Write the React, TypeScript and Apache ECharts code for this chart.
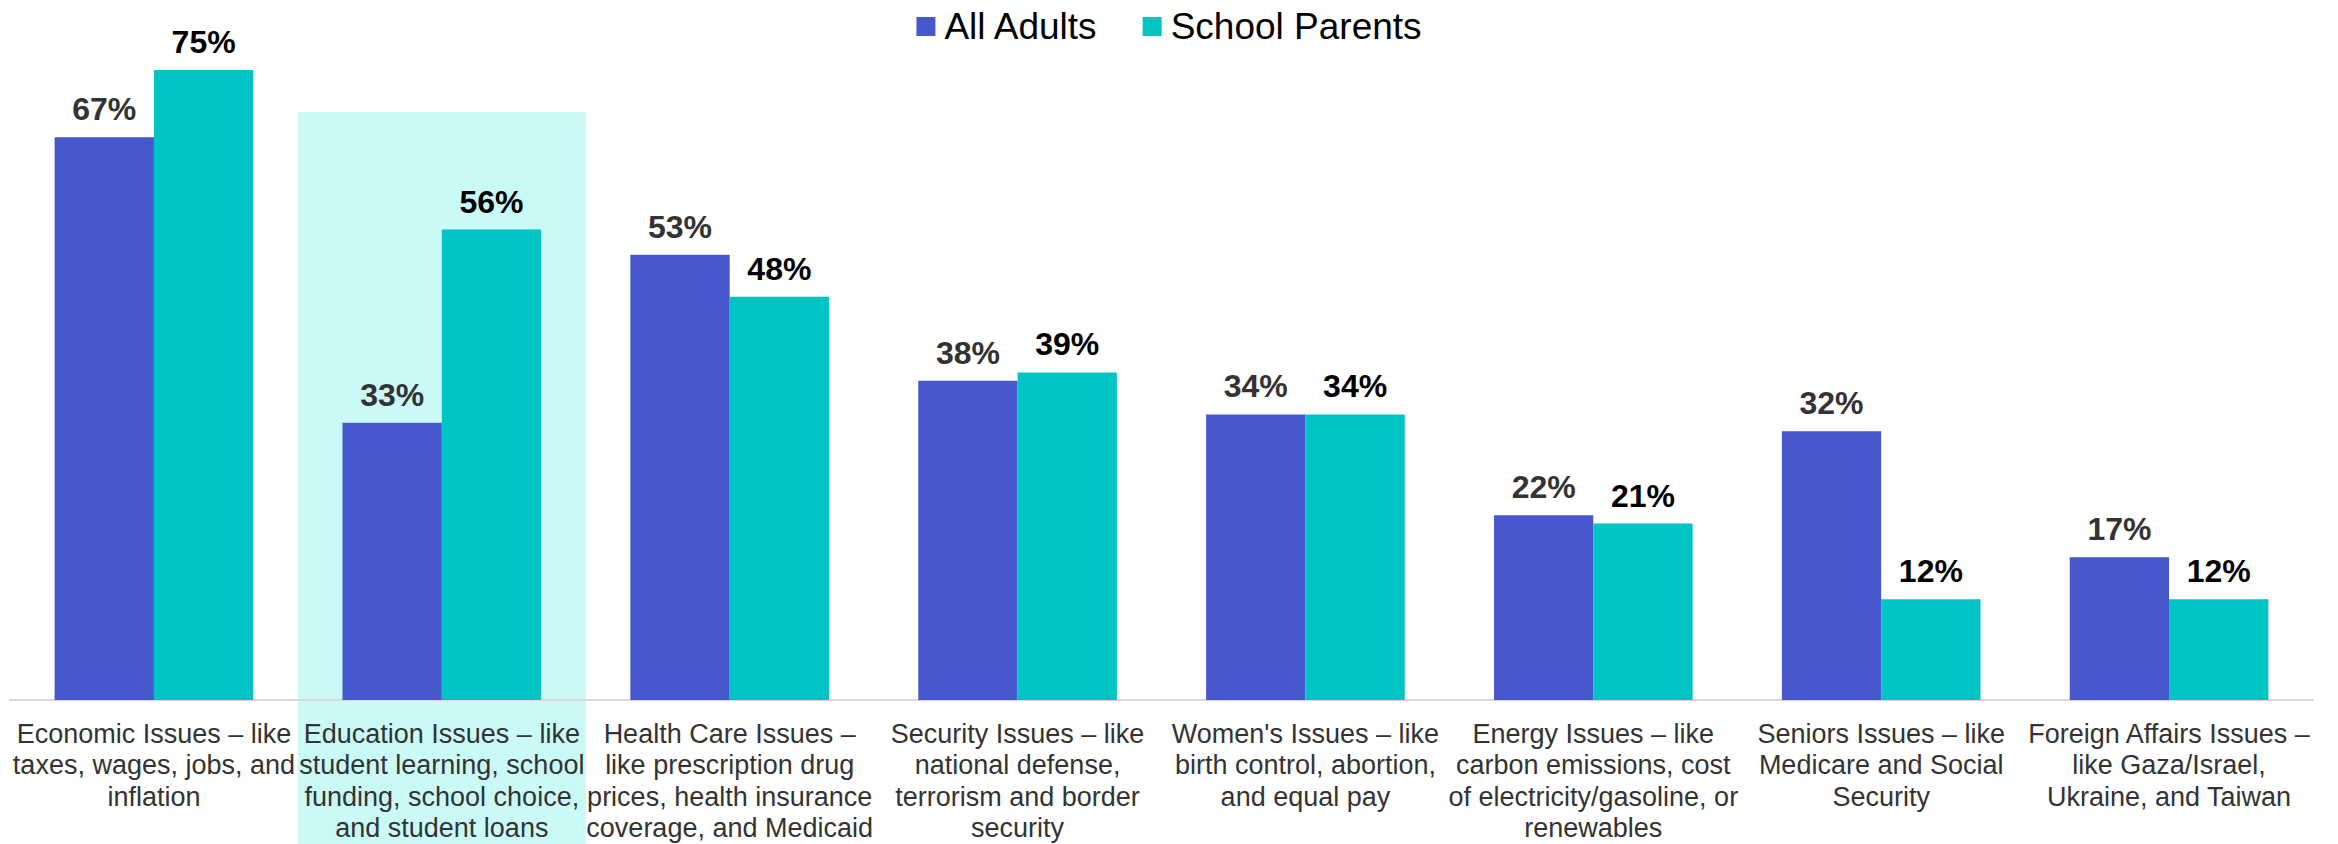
import React, { useEffect, useRef } from "react";
import * as echarts from "echarts";

const categories = [
  "Economic Issues – like\ntaxes, wages, jobs, and\ninflation",
  "Education Issues – like\nstudent learning, school\nfunding, school choice,\nand student loans",
  "Health Care Issues –\nlike prescription drug\nprices, health insurance\ncoverage, and Medicaid",
  "Security Issues – like\nnational defense,\nterrorism and border\nsecurity",
  "Women's Issues – like\nbirth control, abortion,\nand equal pay",
  "Energy Issues – like\ncarbon emissions, cost\nof electricity/gasoline, or\nrenewables",
  "Seniors Issues – like\nMedicare and Social\nSecurity",
  "Foreign Affairs Issues –\nlike Gaza/Israel,\nUkraine, and Taiwan",
];
const allAdults = [67, 33, 53, 38, 34, 22, 32, 17];
const schoolParents = [75, 56, 48, 39, 34, 21, 12, 12];
const highlightIndex = 1;
const highlightTop = 70;

const FONT = '"Liberation Sans", Arial, Helvetica, sans-serif';

export default function App() {
  const ref = useRef<HTMLDivElement>(null);
  useEffect(() => {
    if (!ref.current) return;
    const chart = echarts.init(ref.current, undefined, { renderer: "svg" });
    chart.setOption({
      animation: false,
      backgroundColor: "#ffffff",
      textStyle: { fontFamily: FONT },
      legend: {
        top: 8,
        left: "center",
        padding: 0,
        itemWidth: 19,
        itemHeight: 19,
        itemGap: 44,
        icon: "rect",
        textStyle: { fontSize: 37, color: "#000", fontFamily: FONT, padding: [0, 0, 0, 4] },
        data: ["All Adults", "School Parents"],
      },
      grid: { left: 10, right: 25, top: 28, bottom: 144, containLabel: false },
      xAxis: {
        type: "category",
        data: categories,
        axisLine: { show: true, lineStyle: { color: "#d9d9d9", width: 2 } },
        axisTick: { show: false },
        axisLabel: {
          interval: 0,
          fontSize: 27,
          lineHeight: 31.5,
          color: "#333333",
          margin: 18,
          fontFamily: FONT,
        },
      },
      yAxis: { type: "value", min: 0, max: 80, show: false, splitLine: { show: false } },
      series: [
        {
          name: "All Adults",
          type: "bar",
          data: allAdults,
          barGap: "0%",
          barCategoryGap: "31%",
          itemStyle: { color: "#4757CC" },
          label: {
            show: true,
            position: "top",
            distance: 12,
            formatter: "{c}%",
            fontSize: 32,
            fontWeight: "bold",
            color: "#333333",
            fontFamily: FONT,
          },
        },
        {
          name: "School Parents",
          type: "bar",
          data: schoolParents,
          itemStyle: { color: "#00C3C3" },
          label: {
            show: true,
            position: "top",
            distance: 12,
            formatter: "{c}%",
            fontSize: 32,
            fontWeight: "bold",
            color: "#000000",
            fontFamily: FONT,
          },
        },
      ],
    });
    const c0 = chart.convertToPixel({ xAxisIndex: 0 }, 0) as number;
    const c1 = chart.convertToPixel({ xAxisIndex: 0 }, 1) as number;
    const band = c1 - c0;
    const ch = chart.convertToPixel({ xAxisIndex: 0 }, highlightIndex) as number;
    const top = chart.convertToPixel({ yAxisIndex: 0 }, highlightTop) as number;
    const h = chart.getHeight();
    chart.setOption({
      graphic: [
        {
          type: "rect",
          z: -10,
          silent: true,
          shape: { x: ch - band / 2, y: top, width: band, height: h - top },
          style: { fill: "#C9FAF7" },
        },
      ],
    });
    return () => chart.dispose();
  }, []);
  return (
    <div
      ref={ref}
      style={{ position: "fixed", left: 0, top: 0, width: 2338, height: 844 }}
    />
  );
}
